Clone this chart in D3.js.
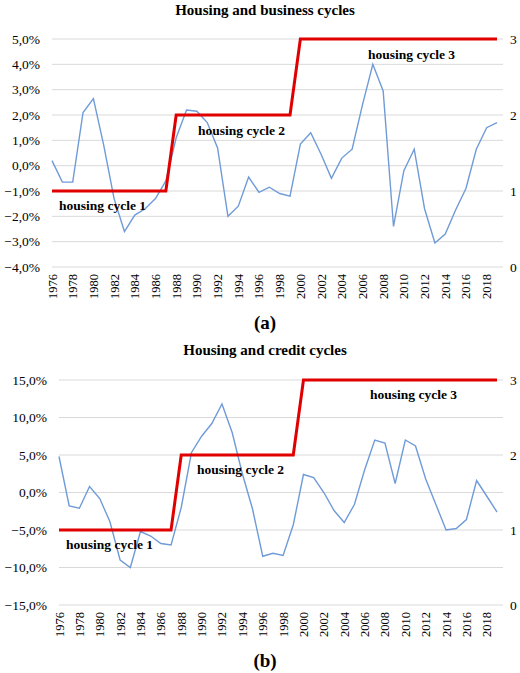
<!DOCTYPE html><html><head><meta charset="utf-8"><script src="https://cdn.jsdelivr.net/npm/d3@7"></script>
<style>body{margin:0;background:#fff}text{font-family:"Liberation Serif","Times New Roman",serif}</style></head><body><svg width="520" height="673"></svg>
<script>
const years=d3.range(1976,2020);
const business=[0.2,-0.65,-0.65,2.1,2.65,0.8,-1.3,-2.6,-1.95,-1.7,-1.3,-0.6,1.1,2.2,2.15,1.7,0.7,-2.0,-1.6,-0.45,-1.05,-0.85,-1.1,-1.2,0.85,1.3,0.45,-0.5,0.3,0.65,2.4,4.0,2.95,-2.4,-0.2,0.65,-1.7,-3.05,-2.7,-1.75,-0.9,0.65,1.5,1.7];
const credit=[4.8,-1.8,-2.1,0.8,-0.8,-3.9,-9.0,-10.0,-5.2,-5.8,-6.8,-7.0,-2.0,5.3,7.5,9.2,11.8,8.0,2.5,-2.2,-8.5,-8.1,-8.4,-4.3,2.4,2.0,0.0,-2.4,-4.0,-1.6,3.0,7.0,6.6,1.2,7.0,6.2,1.8,-1.6,-5.0,-4.8,-3.6,1.6,-0.5,-2.6];
const cycle=years.map(y=>y<=1987?1:y<=1999?2:3);
const leftTicksA=d3.range(-4,5.01,1), leftTicksB=d3.range(-15,15.01,5), rightTicks=[0,1,2,3];
const svg=d3.select("svg");
const fmt=v=>(v<0?"\u2212":"")+Math.abs(v).toFixed(1).replace(".",",")+"%";
function panel(cfg){
 const g=svg.append("g");
 const x=d3.scalePoint().domain(years).range([cfg.x0,497]);
 const y=d3.scaleLinear().domain(cfg.dom).range([cfg.y1,cfg.y0]);
 const yr=d3.scaleLinear().domain([0,3]).range([cfg.y1,cfg.y0]);
 g.append("text").attr("x",265).attr("y",cfg.titleY).attr("text-anchor","middle").attr("font-weight","bold").attr("font-size",15).text(cfg.title);
 cfg.ticks.forEach(t=>{
  g.append("line").attr("x1",cfg.x0).attr("x2",503).attr("y1",y(t)).attr("y2",y(t)).attr("stroke","#d9d9d9");
  g.append("text").attr("x",cfg.x0-12).attr("y",y(t)+4.5).attr("text-anchor","end").attr("font-size",13.5).text(fmt(t));
 });
 rightTicks.forEach(t=>g.append("text").attr("x",510).attr("y",yr(t)+4.5).attr("font-size",13.5).text(t));
 years.filter(d=>d%2==0).forEach(d=>g.append("text").attr("transform",`translate(${x(d)+4.5},${cfg.y1+7}) rotate(-90)`).attr("text-anchor","end").attr("font-size",12.5).text(d));
 g.append("path").datum(cfg.data).attr("fill","none").attr("stroke","#6f9bd8").attr("stroke-width",1.4)
  .attr("d",d3.line().x((d,i)=>x(years[i])).y(d=>y(d)));
 g.append("path").datum(cycle).attr("fill","none").attr("stroke","#e00000").attr("stroke-width",3)
  .attr("d",d3.line().x((d,i)=>x(years[i])).y(d=>yr(d)));
 cfg.labels.forEach(l=>g.append("text").attr("x",l[0]).attr("y",l[1]).attr("font-weight","bold").attr("font-size",13.5).text(l[2]));
 g.append("text").attr("x",265).attr("y",cfg.subY).attr("text-anchor","middle").attr("font-weight","bold").attr("font-size",19).text(cfg.sub);
}
panel({x0:52,y0:39,y1:267,dom:[-4,5],ticks:leftTicksA,data:business,title:"Housing and business cycles",titleY:15,sub:"(a)",subY:329,
 labels:[[59,210,"housing cycle 1"],[198,135,"housing cycle 2"],[368,59,"housing cycle 3"]]});
panel({x0:59,y0:380,y1:605,dom:[-15,15],ticks:leftTicksB,data:credit,title:"Housing and credit cycles",titleY:355,sub:"(b)",subY:667,
 labels:[[66,549,"housing cycle 1"],[197,474,"housing cycle 2"],[370,399,"housing cycle 3"]]});
</script></body></html>
